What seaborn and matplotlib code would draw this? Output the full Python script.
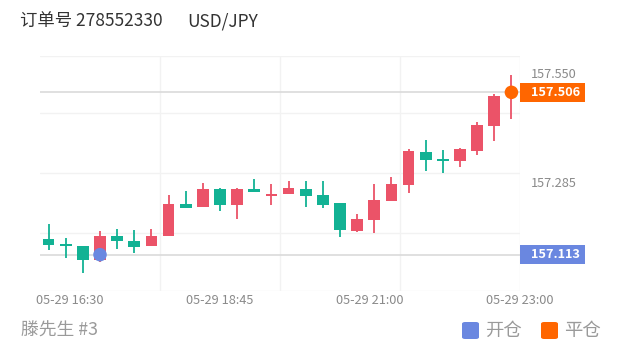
import pandas as pd
import seaborn as sns
import matplotlib.pyplot as plt
from matplotlib import transforms
from matplotlib.patches import Rectangle, FancyBboxPatch

# OHLC (28 bars)
opens = [157.151, 157.138, 157.133, 157.099, 157.159, 157.147, 157.134, 157.158,
         157.236, 157.228, 157.273, 157.233, 157.271, 157.256, 157.259, 157.273,
         157.258, 157.237, 157.171, 157.197, 157.243, 157.281, 157.362, 157.344,
         157.340, 157.363, 157.425, 157.498]
highs = [157.187, 157.154, 157.134, 157.171, 157.176, 157.173, 157.176, 157.257,
         157.268, 157.286, 157.274, 157.275, 157.296, 157.284, 157.292, 157.292,
         157.292, 157.238, 157.211, 157.283, 157.302, 157.368, 157.391, 157.367,
         157.371, 157.435, 157.501, 157.548]
lows = [157.125, 157.105, 157.068, 157.095, 157.126, 157.117, 157.134, 157.158,
        157.227, 157.228, 157.218, 157.199, 157.264, 157.234, 157.259, 157.229,
        157.227, 157.155, 157.168, 157.165, 157.243, 157.263, 157.315, 157.310,
        157.326, 157.355, 157.387, 157.441]
closes = [157.136, 157.133, 157.099, 157.159, 157.146, 157.131, 157.159, 157.235,
          157.227, 157.273, 157.234, 157.273, 157.264, 157.261, 157.274, 157.254,
          157.233, 157.172, 157.199, 157.246, 157.284, 157.364, 157.342, 157.340,
          157.368, 157.427, 157.498, 157.506]

x_labels = ["05-29 16:30", "05-29 18:45", "05-29 21:00", "05-29 23:00"]
x_label_pos = [1.25, 10.0, 18.75, 27.5]
y_labels = [157.550, 157.285]
grid_prices = [157.456, 157.311, 157.166]
open_price, open_idx = 157.113, 3
close_price, close_idx = 157.506, 27

RED, GREEN = "#eb5368", "#12b294"
BLUE, ORANGE = "#6a87e0", "#ff6600"

df = pd.DataFrame({"open": opens, "high": highs, "low": lows, "close": closes})
df["idx"] = range(len(df))
df["color"] = [RED if c >= o else GREEN for o, c in zip(df.open, df.close)]

sns.set_theme(style="white")
plt.rcParams["font.family"] = ["Noto Sans CJK SC", "DejaVu Sans"]

fig = plt.figure(figsize=(6.2, 3.52), dpi=100)
ax = fig.add_axes([40 / 620, 61 / 352, 480 / 620, 235 / 352])
ax.set_xlim(-0.5, 27.5)
ax.set_ylim(157.025, 157.594)
for s in ax.spines.values():
    s.set_visible(False)

# grid
for g in grid_prices + [157.594]:
    ax.axhline(g, color="#f2f2f2", lw=1, zorder=0)
for v in [6.5, 13.5, 20.5, 27.5]:
    ax.axvline(v, color="#f2f2f2", lw=1, zorder=0)
ax.axhline(157.025, color="#f2f2f2", lw=1, zorder=0)
ax.axhline(close_price, color="#dadada", lw=1.2, zorder=1)
ax.axhline(open_price, color="#dadada", lw=1.2, zorder=1)

# candles
ax.vlines(df.idx, df.low, df.high, colors=df.color, lw=1.3, zorder=2)
bottoms = df[["open", "close"]].min(axis=1)
heights = (df.close - df.open).abs()
ax.bar(df.idx, heights, bottom=bottoms, width=0.68, color=df.color, lw=0, zorder=3)

# open / close markers
marks = pd.DataFrame({"x": [open_idx, close_idx], "y": [open_price, close_price],
                      "kind": ["open", "close"]})
sns.scatterplot(data=marks, x="x", y="y", hue="kind", palette=[BLUE, ORANGE],
                s=95, linewidth=0, legend=False, zorder=4, ax=ax)
ax.set_xlabel("")
ax.set_ylabel("")

ax.set_xticks(x_label_pos)
ax.set_xticklabels(x_labels, fontsize=9.2, color="#8a8a8a")
ax.tick_params(axis="x", length=0, pad=2)
ax.set_yticks([])

# right-side price labels
trans = transforms.blended_transform_factory(ax.transAxes, ax.transData)
for p in y_labels:
    ax.text(1.023, p, f"{p:.3f}", transform=trans, ha="left", va="center",
            fontsize=9.2, color="#8a8a8a", clip_on=False)
box_h = 19.5 / 235 * (157.594 - 157.025)
for p, c in [(close_price, ORANGE), (open_price, BLUE)]:
    ax.add_patch(Rectangle((1.0, p - box_h / 2), 65 / 480, box_h, transform=trans,
                           color=c, clip_on=False, lw=0))
    ax.text(1.023, p, f"{p:.3f}", transform=trans, ha="left", va="center",
            fontsize=9.2, color="white", fontweight="bold", clip_on=False)

# header and footer
fig.text(20 / 620, 1 - 21 / 352, "订单号 278552330", fontsize=12.5, color="#333333",
         va="center", ha="left")
fig.text(187 / 620, 1 - 21 / 352, "USD/JPY", fontsize=12.5, color="#333333",
         va="center", ha="left")
fig.text(21 / 620, 1 - 331 / 352, "滕先生 #3", fontsize=12.8, color="#9a9a9a",
         va="center", ha="left")
for x0, c, lab in [(462, BLUE, "开仓"), (541, ORANGE, "平仓")]:
    fig.patches.append(FancyBboxPatch((x0 / 620, 1 - 339 / 352), 17 / 620, 17 / 352,
                                      boxstyle="round,pad=0,rounding_size=0.005",
                                      transform=fig.transFigure, fc=c, ec="none"))
    fig.text((x0 + 23) / 620, 1 - 331 / 352, lab, fontsize=13.2, color="#9a9a9a",
             va="center", ha="left")

fig.savefig("out.png", dpi=100)
